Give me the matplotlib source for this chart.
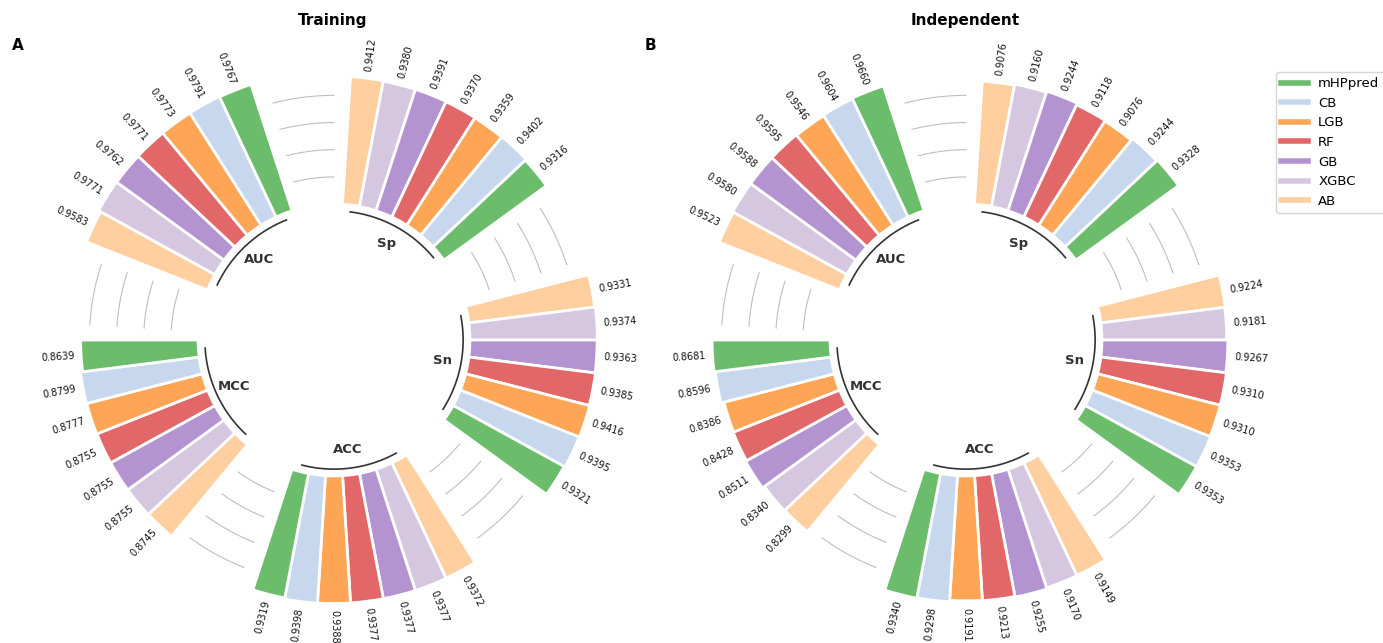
import numpy as np
import matplotlib
matplotlib.use('Agg')  # no display
import matplotlib.pyplot as plt
from matplotlib.colors import to_rgba
from matplotlib.lines import Line2D

metrics = ['AUC', 'Sp', 'Sn', 'ACC', 'MCC']
models = ['AB', 'XGBC', 'GB', 'RF', 'LGB', 'CB', 'mHPpred']
model_colors = ['#ffbb78', '#c5b0d5', '#9467bd', '#d62728', '#ff7f0e', '#aec7e8', '#2ca02c']

# Training scores (model order as above)
train_auc = [0.9583, 0.9771, 0.9762, 0.9771, 0.9773, 0.9791, 0.9767]
train_sp = [0.9412, 0.9380, 0.9391, 0.9370, 0.9359, 0.9402, 0.9316]
train_sn = [0.9331, 0.9374, 0.9363, 0.9385, 0.9416, 0.9395, 0.9321]
train_acc = [0.9372, 0.9377, 0.9377, 0.9377, 0.9388, 0.9398, 0.9319]
train_mcc = [0.8745, 0.8755, 0.8755, 0.8755, 0.8777, 0.8799, 0.8639]

# Independent test scores
ind_auc = [0.9523, 0.9580, 0.9588, 0.9595, 0.9546, 0.9604, 0.9660]
ind_sp = [0.9076, 0.9160, 0.9244, 0.9118, 0.9076, 0.9244, 0.9328]
ind_sn = [0.9224, 0.9181, 0.9267, 0.9310, 0.9310, 0.9353, 0.9353]
ind_acc = [0.9149, 0.9170, 0.9255, 0.9213, 0.9191, 0.9298, 0.9340]
ind_mcc = [0.8299, 0.8340, 0.8511, 0.8428, 0.8386, 0.8596, 0.8681]

PAD = 3
N_SLOTS = len(metrics) * (len(models) + PAD)
ANGLES = np.linspace(0, 2 * np.pi, N_SLOTS, endpoint=False)
WIDTH = 2 * np.pi / N_SLOTS
OFFSET_DEG = 176.4
ALPHA = 0.7


def draw_panel(ax, scores, title):
    ax.set_theta_offset(np.deg2rad(OFFSET_DEG))
    ax.set_theta_direction(-1)
    ax.set_ylim(-1, 1.2)
    ax.set_frame_on(False)
    ax.xaxis.grid(False)
    ax.yaxis.grid(False)
    ax.set_xticks([])
    ax.set_yticks([])

    colors = [to_rgba(c, ALPHA) for c in model_colors]
    offset = 0
    for metric, vals in zip(metrics, scores):
        idx = np.arange(offset + PAD, offset + PAD + len(models))
        theta = ANGLES[idx]
        ax.bar(theta, vals, width=WIDTH, color=colors, edgecolor='white', linewidth=2)

        # value labels, rotated along the radius
        for t, v in zip(theta, vals):
            rot = (OFFSET_DEG - np.rad2deg(t)) % 360
            if 90 <= rot < 270:
                rot += 180
                ha = 'right'
            else:
                ha = 'left'
            ax.text(t, v + 0.05, f'{v:.4f}', ha=ha, va='center', rotation=rot,
                    rotation_mode='anchor', fontsize=7, color='#111111')

        # arc below the group + group name
        x1 = np.linspace(ANGLES[offset + PAD], ANGLES[offset + PAD + len(models) - 1], 50)
        ax.plot(x1, [-0.05] * 50, color='#333333', lw=1.2)
        ax.text(np.mean(x1), -0.19, metric, ha='center', va='center',
                fontsize=9.5, fontweight='bold', color='#333333')

        # reference lines in the gap
        x2 = np.linspace(ANGLES[offset], ANGLES[offset + PAD - 1], 50)
        for ref in [0.2, 0.4, 0.6, 0.8]:
            ax.plot(x2, [ref] * 50, color='#bebebe', lw=0.8)

        offset += len(models) + PAD


fig = plt.figure(figsize=(13.83, 6.43), dpi=100)
W, H = 1383, 643
size = 598
ax_a = fig.add_axes([(334 - size / 2) / W, (303 - size / 2) / H, size / W, size / H], projection='polar')
ax_b = fig.add_axes([(966 - size / 2) / W, (303 - size / 2) / H, size / W, size / H], projection='polar')

draw_panel(ax_a, [train_auc, train_sp, train_sn, train_acc, train_mcc], 'Training')
draw_panel(ax_b, [ind_auc, ind_sp, ind_sn, ind_acc, ind_mcc], 'Independent')

fig.text(333 / W, 1 - 21 / H, 'Training', ha='center', va='center', fontsize=11, fontweight='bold')
fig.text(965 / W, 1 - 21 / H, 'Independent', ha='center', va='center', fontsize=11, fontweight='bold')
fig.text(18 / W, 1 - 45 / H, 'A', ha='center', va='center', fontsize=11, fontweight='bold')
fig.text(650 / W, 1 - 45 / H, 'B', ha='center', va='center', fontsize=11, fontweight='bold')

legend_order = ['mHPpred', 'CB', 'LGB', 'RF', 'GB', 'XGBC', 'AB']
handles = [Line2D([0], [0], color=to_rgba(model_colors[models.index(m)], ALPHA), lw=4)
           for m in legend_order]
fig.legend(handles, legend_order, loc='upper left', bbox_to_anchor=(1276 / W, 1 - 72 / H),
           borderaxespad=0, fontsize=9.5, frameon=True)

fig.savefig('out.png', dpi=100)
